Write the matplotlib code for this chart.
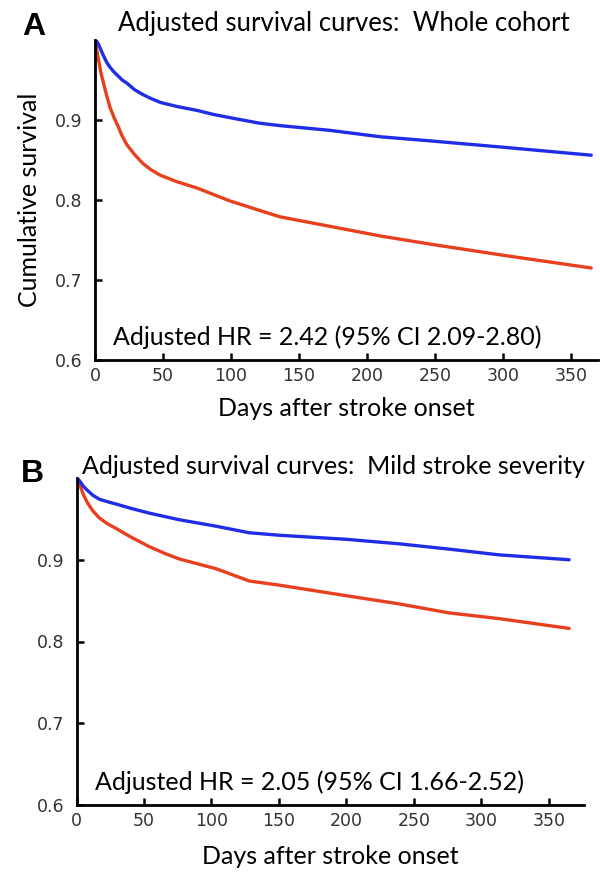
import matplotlib
matplotlib.use("Agg")
import matplotlib.pyplot as plt

# Panel A: whole cohort
a_days = [0, 1, 2.5, 4.5, 7, 9, 11, 14, 17, 20, 23.5, 29, 35, 41, 48, 60, 75, 87, 99,
          121, 136, 173, 210, 246, 300, 365]
a_blue = [1.0, 0.999, 0.995, 0.987, 0.9775, 0.971, 0.966, 0.960, 0.955, 0.950, 0.946,
          0.938, 0.932, 0.927, 0.922, 0.917, 0.912, 0.907, 0.903,
          0.896, 0.893, 0.887, 0.879, 0.874, 0.866, 0.856]
a_red = [1.0, 0.99, 0.976, 0.958, 0.941, 0.928, 0.916, 0.903, 0.892, 0.880, 0.869,
         0.857, 0.846, 0.838, 0.831, 0.823, 0.815, 0.807, 0.799,
         0.787, 0.779, 0.767, 0.755, 0.745, 0.731, 0.715]

# Panel B: mild stroke severity
b_days = [0, 1, 3, 5, 8, 12, 17, 23, 29.6, 40, 54, 65, 76, 103.5, 128, 150, 200,
          239, 276, 313, 365]
b_blue = [1.0, 0.999, 0.995, 0.990, 0.985, 0.979, 0.974, 0.971, 0.968, 0.963, 0.957,
          0.953, 0.949, 0.941, 0.933, 0.930, 0.925, 0.9195, 0.913, 0.906, 0.900]
b_red = [1.0, 0.997, 0.989, 0.980, 0.970, 0.960, 0.951, 0.944, 0.938, 0.928, 0.916,
         0.908, 0.901, 0.889, 0.874, 0.869, 0.856, 0.846, 0.835, 0.828, 0.816]

x_ticks = [0, 50, 100, 150, 200, 250, 300, 350]
y_ticks = [0.6, 0.7, 0.8, 0.9]

BLUE = "#1f2de6"
RED = "#e8401e"
TXT = ["Lato", "DejaVu Sans"]
TICKF = ["DejaVu Sans"]
BOLDF = ["Liberation Sans", "DejaVu Sans"]
FS = 18

fig = plt.figure(figsize=(6, 8.73), dpi=100)

def style(ax, xmax):
    ax.set_xlim(0, xmax)
    ax.set_ylim(0.6, 1.0)
    ax.spines["top"].set_visible(False)
    ax.spines["right"].set_visible(False)
    for s in ("left", "bottom"):
        ax.spines[s].set_linewidth(2.0)
        ax.spines[s].set_color("black")
    ax.set_xticks(x_ticks)
    ax.set_yticks(y_ticks)
    ax.set_yticklabels([f"{v:.1f}" for v in y_ticks])
    ax.tick_params(direction="in", length=5, width=1.8, labelsize=12.5,
                   labelcolor="#333333")
    ax.tick_params(axis="x", pad=5)
    ax.tick_params(axis="y", pad=9)
    for lab in ax.get_xticklabels() + ax.get_yticklabels():
        lab.set_family(TICKF)

# Panel A
axA = fig.add_axes([95 / 600, 1 - 360 / 873, 503 / 600, 320 / 873])
axA.plot(a_days, a_red, color=RED, lw=2.4, solid_capstyle="round")
axA.plot(a_days, a_blue, color=BLUE, lw=2.4, solid_capstyle="round")
style(axA, 370)
axA.set_ylabel("Cumulative survival", family=TXT, fontsize=FS, labelpad=10)
axA.set_xlabel("Days after stroke onset", family=TXT, fontsize=FS, labelpad=9)
fig.text(113 / 600, 1 - 345 / 873, "Adjusted HR = 2.42 (95% CI 2.09-2.80)",
         family=TXT, fontsize=FS, va="baseline")
fig.text(118 / 600, 1 - 31 / 873, "Adjusted survival curves:  Whole cohort",
         family=TXT, fontsize=18.5, va="baseline")
fig.text(22 / 600, 1 - 35 / 873, "A", family=BOLDF, fontsize=23,
         fontweight="bold", va="baseline")

# Panel B
axB = fig.add_axes([76.5 / 600, 1 - 805 / 873, 507.5 / 600, 327 / 873])
axB.plot(b_days, b_red, color=RED, lw=2.4, solid_capstyle="round")
axB.plot(b_days, b_blue, color=BLUE, lw=2.4, solid_capstyle="round")
style(axB, 376)
axB.set_xlabel("Days after stroke onset", family=TXT, fontsize=FS, labelpad=11)
fig.text(95 / 600, 1 - 790 / 873, "Adjusted HR = 2.05 (95% CI 1.66-2.52)",
         family=TXT, fontsize=FS, va="baseline")
fig.text(82 / 600, 1 - 474 / 873, "Adjusted survival curves:  Mild stroke severity",
         family=TXT, fontsize=18, va="baseline")
fig.text(21 / 600, 1 - 482 / 873, "B", family=BOLDF, fontsize=23,
         fontweight="bold", va="baseline")

fig.savefig("out.png", dpi=100)
